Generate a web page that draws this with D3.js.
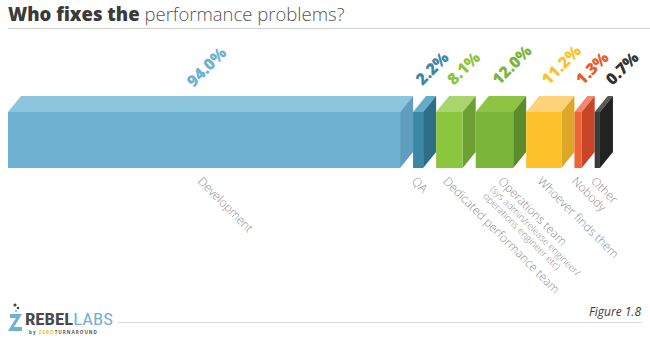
<!DOCTYPE html>
<html><head><meta charset="utf-8">
<script src="https://cdn.jsdelivr.net/npm/d3@7"></script>
<style>
html,body{margin:0;padding:0;background:#fff;}
svg{display:block;font-family:"Open Sans",sans-serif;}
</style></head>
<body><svg id="c" width="650" height="341"></svg>
<script>
const categories = ["Development","QA","Dedicated performance team","Operations team","Whoever finds them","Nobody","Other"];
const subtitles = ["","","","(sys admin/release engineer/|operations engineer etc)","","",""];
const values = [94.0, 2.2, 8.1, 12.0, 11.2, 1.3, 0.7];
const valueLabels = ["94.0%","2.2%","8.1%","12.0%","11.2%","1.3%","0.7%"];
const frontColors = ["#6fb1d1","#3b88a6","#8cc63f","#7ab63a","#fdc22b","#ee6535","#3b3b3b"];
const topColors   = ["#8cc6de","#62acca","#a9d56d","#8dc444","#fed27a","#f3876a","#585858"];
const sideColors  = ["#5f9ebf","#2f6d86","#6d9f33","#5a8b2c","#dfa727","#c94527","#222222"];
const labelColors = ["#6fb1d1","#3b88a6","#8cc63f","#7ab63a","#fdc22b","#e95a2c","#333333"];

const svg = d3.select("#c");
const depthX = 13, depthY = 16;
const barTop = 112, barBottom = 168;

// width scale (chart is not strictly proportional; piecewise linear scale)
const w = d3.scaleLinear().domain([0, 2, 12, 100]).range([3, 9.5, 37.5, 418]);

// title
const title = svg.append("text").attr("x", 8).attr("y", 21).attr("font-size", 18.5);
title.append("tspan").attr("font-weight", 800).attr("fill", "#3a3a3a").text("Who fixes the ");
title.append("tspan").attr("font-weight", 300).attr("fill", "#555").text("performance problems?");
svg.append("line").attr("x1", 8).attr("x2", 650).attr("y1", 28.5).attr("y2", 28.5)
  .attr("stroke", "#cfcfcf").attr("stroke-width", 1.2);

// compute bar positions
let cx = 8;
const bars = values.map((v, i) => {
  const bw = w(v);
  const b = {i, v, x: cx, w: bw};
  cx += bw + depthX;
  return b;
});

const g = svg.append("g");
let prevLabelX = -Infinity;
const minGap = 30;
bars.forEach(b => {
  const x0 = b.x, x1 = b.x + b.w;
  g.append("polygon")
    .attr("points", [[x0, barTop],[x0+depthX, barTop-depthY],[x1+depthX, barTop-depthY],[x1, barTop]].join(" "))
    .attr("fill", topColors[b.i]);
  g.append("polygon")
    .attr("points", [[x1, barTop],[x1+depthX, barTop-depthY],[x1+depthX, barBottom-depthY],[x1, barBottom]].join(" "))
    .attr("fill", sideColors[b.i]);
  g.append("rect").attr("x", x0).attr("y", barTop).attr("width", b.w).attr("height", barBottom - barTop)
    .attr("fill", frontColors[b.i]);

  // value label: centred over wide bars, starting at the top centre of narrow ones
  const wide = b.w > 60;
  let lx = x0 + b.w / 2 + depthX / 2 - (wide ? 0 : 2);
  const ly = wide ? 71 : 86;
  if (!wide) { lx = Math.max(lx, prevLabelX + minGap); prevLabelX = lx; }
  svg.append("text")
    .attr("transform", `translate(${lx},${ly}) rotate(-45)`)
    .attr("text-anchor", wide ? "middle" : "start")
    .attr("font-size", 16).attr("font-weight", 800)
    .attr("fill", labelColors[b.i]).text(valueLabels[b.i]);

  // category label
  const sub = subtitles[b.i] ? subtitles[b.i].split("|") : [];
  const shift = sub.length ? 10 : 0;
  const cxp = x0 + b.w / 2 - 7 + shift, cyp = 182;
  const t = svg.append("g").attr("transform", `translate(${cxp},${cyp}) rotate(45)`);
  t.append("text").attr("font-size", 12).attr("font-weight", 300).attr("fill", "#8f8f8f").text(categories[b.i]);
  sub.forEach((s, k) => {
    t.append("text").attr("x", 0).attr("y", 11 + k * 10).attr("font-size", 9.5).attr("font-weight", 300)
      .attr("fill", "#8f8f8f").text(s);
  });
});

// footer
svg.append("line").attr("x1", 118).attr("x2", 642).attr("y1", 322.5).attr("y2", 322.5)
  .attr("stroke", "#dadada").attr("stroke-width", 1.2);
svg.append("text").attr("x", 641).attr("y", 316).attr("text-anchor", "end")
  .attr("font-size", 12).attr("font-style", "italic").attr("fill", "#3a3a3a").text("Figure 1.8");

// logo
const logo = svg.append("g");
logo.append("path").attr("d", "M10,314 L22,314 L14,327 L22,327 L22,331 L8,331 L16,318 L10,318 Z").attr("fill", "#6fb1d1");
logo.append("circle").attr("cx", 15).attr("cy", 305).attr("r", 1.6).attr("fill", "#444");
logo.append("circle").attr("cx", 18).attr("cy", 308).attr("r", 1.3).attr("fill", "#444");
logo.append("circle").attr("cx", 16).attr("cy", 311).attr("r", 1).attr("fill", "#6fb1d1");
const lt = logo.append("text").attr("x", 25).attr("y", 325).attr("font-size", 17)
  .attr("font-family", "'Roboto Condensed','Liberation Sans Narrow',Roboto,sans-serif")
  .attr("textLength", 88).attr("lengthAdjust", "spacingAndGlyphs");
lt.append("tspan").attr("font-weight", 700).attr("fill", "#4a4a4a").text("REBEL");
lt.append("tspan").attr("font-weight", 400).attr("fill", "#6fb1d1").text("LABS");
const bt = logo.append("text").attr("x", 29).attr("y", 333.5).attr("font-size", 4.6).attr("font-weight", 700)
  .attr("letter-spacing", 1);
bt.append("tspan").attr("fill", "#555").text("by ");
bt.append("tspan").attr("fill", "#f2b632").text("ZERO");
bt.append("tspan").attr("fill", "#555").text("TURNAROUND");
</script></body></html>
